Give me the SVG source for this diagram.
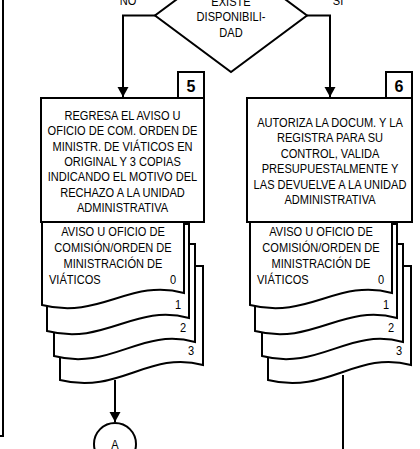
<svg xmlns="http://www.w3.org/2000/svg" width="420" height="449" viewBox="0 0 420 449">
<defs>
<marker id="arr" markerWidth="10" markerHeight="13" refX="10" refY="6.5" orient="auto" markerUnits="userSpaceOnUse">
<path d="M0,1 L10,6.5 L0,12 Z" fill="#000"/>
</marker>
<style>
.ln{fill:none;stroke:#000;stroke-width:2}
.sh{fill:#fff;stroke:#000;stroke-width:2;stroke-linejoin:miter}
text{font-family:"Liberation Sans",Arial,sans-serif;font-size:13.5px;fill:#000}
.c{text-anchor:middle}
.n{font-size:16px;font-weight:bold;text-anchor:middle}
</style>
</defs>
<rect width="420" height="449" fill="#fff"/>
<g id="connectors">
<path class="ln" d="M3,0 V436 H0"/>
<path class="ln" d="M155,15.5 H123 V97" marker-end="url(#arr)"/>
<path class="ln" d="M307,15.5 H330 V97" marker-end="url(#arr)"/>
<path class="ln" d="M115,380 V422" marker-end="url(#arr)"/>
<path class="ln" d="M343,375 V449"/>
<text transform="translate(128,5) scale(0.82,1)" class="c">NO</text>
<text transform="translate(338,5) scale(0.82,1)" class="c">SI</text>
</g>
<g id="decision">
<polygon class="sh" points="231,-41 307,15.5 231,72 155,15.5"/>
<text transform="translate(231,5.5) scale(0.82,1)" class="c">EXISTE</text>
<text transform="translate(231,21) scale(0.82,1)" class="c">DISPONIBILI-</text>
<text transform="translate(231,36.5) scale(0.82,1)" class="c">DAD</text>
</g>
<g id="step5">
<rect class="sh" x="178" y="72" width="26" height="26"/>
<text x="191" y="91.5" class="n">5</text>
<rect class="sh" x="41" y="98" width="163" height="124"/>
<text transform="translate(122.5,120) scale(0.82,1)" class="c">REGRESA EL AVISO U</text>
<text transform="translate(122.5,135.3) scale(0.82,1)" class="c">OFICIO DE COM. ORDEN DE</text>
<text transform="translate(122.5,150.6) scale(0.82,1)" class="c">MINISTR. DE VIÁTICOS EN</text>
<text transform="translate(122.5,165.9) scale(0.82,1)" class="c">ORIGINAL Y 3 COPIAS</text>
<text transform="translate(122.5,181.2) scale(0.82,1)" class="c">INDICANDO EL MOTIVO DEL</text>
<text transform="translate(122.5,196.5) scale(0.82,1)" class="c">RECHAZO A LA UNIDAD</text>
<text transform="translate(122.5,211.8) scale(0.82,1)" class="c">ADMINISTRATIVA</text>
</g>
<g id="docs5">
<path class="sh" d="M60,266 H203 V365 C149,350 119,395 60,380 Z"/>
<path class="sh" d="M54,244 H195 V342 C141,327 111,371 54,356 Z"/>
<path class="sh" d="M47,224 H189 V318 C135,303 105,346 47,331 Z"/>
<path class="sh" d="M42,222 H184 V293 C130,278 100,320 42,305 Z"/>
<text transform="translate(113,235.5) scale(0.82,1)" class="c">AVISO U OFICIO DE</text>
<text transform="translate(113,251.5) scale(0.82,1)" class="c">COMISIÓN/ORDEN DE</text>
<text transform="translate(113,267.5) scale(0.82,1)" class="c">MINISTRACIÓN DE</text>
<text transform="translate(49,283.5) scale(0.82,1)">VIÁTICOS</text>
<text transform="translate(173,284) scale(0.82,1)" class="c">0</text>
<text transform="translate(178,308.5) scale(0.82,1)" class="c">1</text>
<text transform="translate(183,332) scale(0.82,1)" class="c">2</text>
<text transform="translate(191,354.5) scale(0.82,1)" class="c">3</text>
</g>
<g id="step6">
<rect class="sh" x="386" y="72" width="26" height="26"/>
<text x="399" y="91.5" class="n">6</text>
<rect class="sh" x="247" y="98" width="165" height="124"/>
<text transform="translate(330,126.5) scale(0.82,1)" class="c">AUTORIZA LA DOCUM. Y LA</text>
<text transform="translate(330,142) scale(0.82,1)" class="c">REGISTRA PARA SU</text>
<text transform="translate(330,157.5) scale(0.82,1)" class="c">CONTROL, VALIDA</text>
<text transform="translate(330,173) scale(0.82,1)" class="c">PRESUPUESTALMENTE Y</text>
<text transform="translate(330,188.5) scale(0.82,1)" class="c">LAS DEVUELVE A LA UNIDAD</text>
<text transform="translate(330,204) scale(0.82,1)" class="c">ADMINISTRATIVA</text>
</g>
<g id="docs6">
<path class="sh" d="M268,266 H411 V365 C357,350 327,395 268,380 Z"/>
<path class="sh" d="M262,244 H403 V342 C349,327 319,371 262,356 Z"/>
<path class="sh" d="M255,224 H397 V318 C343,303 313,346 255,331 Z"/>
<path class="sh" d="M250,222 H392 V293 C338,278 308,320 250,305 Z"/>
<text transform="translate(321,235.5) scale(0.82,1)" class="c">AVISO U OFICIO DE</text>
<text transform="translate(321,251.5) scale(0.82,1)" class="c">COMISIÓN/ORDEN DE</text>
<text transform="translate(321,267.5) scale(0.82,1)" class="c">MINISTRACIÓN DE</text>
<text transform="translate(257,283.5) scale(0.82,1)">VIÁTICOS</text>
<text transform="translate(381,284) scale(0.82,1)" class="c">0</text>
<text transform="translate(386,308.5) scale(0.82,1)" class="c">1</text>
<text transform="translate(391,332) scale(0.82,1)" class="c">2</text>
<text transform="translate(399,354.5) scale(0.82,1)" class="c">3</text>
</g>
<g id="connectorA">
<circle class="sh" cx="115" cy="444" r="21"/>
<text transform="translate(115,449) scale(0.82,1)" class="c">A</text>
</g>
</svg>
